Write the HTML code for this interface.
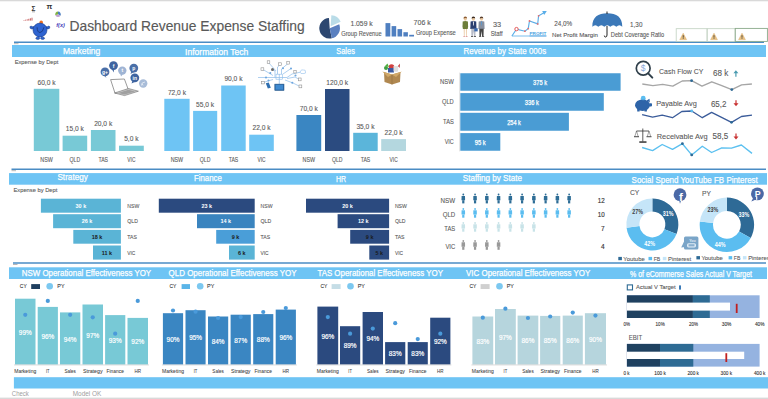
<!DOCTYPE html>
<html><head><meta charset="utf-8"><style>
html,body{margin:0;padding:0;background:#fff;width:768px;height:399px;overflow:hidden}
svg{display:block}
text{font-family:"Liberation Sans", sans-serif}
</style></head><body>
<svg width="768" height="399" viewBox="0 0 768 399">
<rect x="0.00" y="0.00" width="768.00" height="1.30" fill="#D9D9D9" />
<rect x="0.00" y="397.60" width="768.00" height="1.40" fill="#D9D9D9" />
<line x1="14.00" y1="42.30" x2="764.00" y2="42.30" stroke="#4A8CC4" stroke-width="1.5" />
<line x1="11.50" y1="169.20" x2="766.00" y2="169.20" stroke="#4A8CC4" stroke-width="1.5" />
<line x1="13.00" y1="263.00" x2="766.00" y2="263.00" stroke="#4A8CC4" stroke-width="1.5" />
<line x1="14.00" y1="43.70" x2="18.50" y2="43.70" stroke="#B0B0B0" stroke-width="0.9" />
<line x1="11.50" y1="170.70" x2="16.00" y2="170.70" stroke="#B0B0B0" stroke-width="0.9" />
<line x1="13.00" y1="264.50" x2="17.50" y2="264.50" stroke="#B0B0B0" stroke-width="0.9" />
<rect x="12.00" y="45.00" width="754.00" height="12.00" fill="#6EC4F4" />
<rect x="9.00" y="173.10" width="758.00" height="11.60" fill="#6EC4F4" />
<rect x="9.00" y="267.30" width="758.00" height="11.70" fill="#6EC4F4" />
<rect x="13.90" y="377.20" width="754.10" height="11.30" fill="#6EC4F4" />
<text x="69.50" y="31.00" font-size="14.5" fill="#595959" text-anchor="start" font-weight="normal" textLength="235.18" lengthAdjust="spacingAndGlyphs"  stroke="#595959" stroke-width="0.15">Dashboard Revenue Expense Staffing</text>
<circle cx="41.20" cy="22.40" r="1.80" fill="#F07020" />
<g stroke="#1d3f8a" stroke-width="0.6" fill="#2E63D0">
<path d="M34,28.5 Q31.5,29.5 30.2,28.2 Q29.5,26.5 30.8,26 Q31.5,25.6 32,26.8 Q33,27 34,26.5 Z"/>
<path d="M45.8,28.5 Q48.3,29.5 49.6,28.2 Q50.3,26.5 49,26 Q48.3,25.6 47.8,26.8 Q46.8,27 45.8,26.5 Z"/>
<ellipse cx="37.8" cy="38.3" rx="2" ry="1.1"/><ellipse cx="42.6" cy="38.3" rx="2" ry="1.1"/>
<rect x="37.6" y="35" width="1.6" height="3" stroke="none"/><rect x="40.8" y="35" width="1.6" height="3" stroke="none"/>
<ellipse cx="40" cy="30" rx="7" ry="6.9"/>
</g>
<path d="M37.1,27.3 Q37.3,32.5 40,32.5 Q42.8,32.5 43.9,27.3" fill="none" stroke="#1a3a80" stroke-width="0.9"/>
<text x="33.50" y="11.20" font-size="6.5" fill="#333" text-anchor="middle" font-weight="bold" >Σ</text>
<rect x="32.00" y="11.60" width="3.00" height="0.60" fill="#777" />
<text x="49.30" y="8.80" font-size="7.5" fill="#333" text-anchor="middle" font-weight="bold" >π</text>
<path d="M58.00,14.30 L58.00,11.50 A2.8,2.8 0 0 1 60.42,15.70 Z" fill="#4A7FC0" />
<path d="M58.00,14.30 L60.42,15.70 A2.8,2.8 0 0 1 55.37,15.26 Z" fill="#C0A0D0" />
<path d="M58.00,14.30 L55.37,15.26 A2.8,2.8 0 0 1 58.00,11.50 Z" fill="#80B040" />
<text x="60.50" y="27.20" font-size="5.5" fill="#4038B8" text-anchor="middle" font-weight="bold" font-style="italic">f(x)</text>
<rect x="23.50" y="20.00" width="1.00" height="0.60" fill="#C86060" />
<rect x="25.10" y="19.70" width="1.00" height="0.90" fill="#C86060" />
<rect x="26.70" y="19.30" width="1.00" height="1.30" fill="#C86060" />
<rect x="28.30" y="18.80" width="1.00" height="1.80" fill="#C86060" />
<rect x="29.90" y="18.30" width="1.00" height="2.30" fill="#C86060" />
<rect x="31.50" y="17.70" width="1.00" height="2.90" fill="#C86060" />
<path d="M329.70,28.20 L331.84,38.27 A10.3,10.3 0 1 1 328.98,17.93 Z" fill="#2D4770" />
<path d="M329.70,28.20 L339.25,24.34 A10.3,10.3 0 0 1 331.84,38.27 Z" fill="#5A80C0" />
<path d="M330.60,26.20 L331.37,15.23 A11,11 0 0 1 340.65,21.73 Z" fill="#B9DCE8" />
<text x="350.40" y="26.10" font-size="7" fill="#595959" text-anchor="start" font-weight="normal" textLength="22.37" lengthAdjust="spacingAndGlyphs"  stroke="#595959" stroke-width="0.1">1.059 k</text>
<text x="341.25" y="35.80" font-size="6.5" fill="#595959" text-anchor="start" font-weight="normal" textLength="40.35" lengthAdjust="spacingAndGlyphs"  stroke="#595959" stroke-width="0.1">Group Revenue</text>
<rect x="385.50" y="23.10" width="4.80" height="13.40" fill="#4F7FC0" />
<rect x="391.60" y="26.10" width="4.60" height="10.40" fill="#4F7FC0" />
<rect x="397.50" y="29.10" width="4.60" height="7.40" fill="#4F7FC0" />
<rect x="403.40" y="32.20" width="4.50" height="4.30" fill="#4F7FC0" />
<rect x="409.20" y="34.80" width="4.80" height="1.70" fill="#4F7FC0" />
<text x="413.60" y="25.40" font-size="7" fill="#595959" text-anchor="start" font-weight="normal" textLength="17.17" lengthAdjust="spacingAndGlyphs"  stroke="#595959" stroke-width="0.1">706 k</text>
<text x="415.90" y="35.20" font-size="6.5" fill="#595959" text-anchor="start" font-weight="normal" textLength="39.89" lengthAdjust="spacingAndGlyphs"  stroke="#595959" stroke-width="0.1">Group Expense</text>
<g transform="translate(465.30,16.60)">
<ellipse cx="0" cy="2.2" rx="1.6" ry="1.9" fill="#EAC8A0"/><path d="M-1.8,2 Q-1.9,-0.2 0,-0.2 Q1.9,-0.2 1.8,2 Q1,0.9 -1.8,2 Z" fill="#8a5a30"/>
<path d="M-2.6,4.8 Q0,4 2.6,4.8 L2.8,10 L2.4,12.5 L-2.4,12.5 L-2.8,10 Z" fill="#6E7E3A"/>
<path d="M-1.6,12.5 L-0.6,12.5 L-0.7,19.5 L-1.4,19.5 Z M0.6,12.5 L1.6,12.5 L1.4,19.5 L0.7,19.5 Z" fill="#EAC8A0"/>
<path d="M-1.9,19.3 L-0.4,19.3 L-0.4,20 L-1.9,20 Z M0.4,19.3 L2.2,19.3 L2.2,20 L0.4,20 Z" fill="#C04040"/>
</g>
<g transform="translate(473.40,16.60)">
<ellipse cx="0" cy="2.2" rx="1.6" ry="1.9" fill="#EAC8A0"/><path d="M-1.8,2 Q-1.9,-0.2 0,-0.2 Q1.9,-0.2 1.8,2 Q1,0.9 -1.8,2 Z" fill="#3a2a20"/>
<path d="M-2.8,5 Q0,4 2.8,5 L3.1,12.3 L-3.1,12.3 Z" fill="#2B3F70"/>
<path d="M-0.5,4.8 L0.5,4.8 L0.3,9 L-0.3,9 Z" fill="#fff"/>
<path d="M-2.2,12.2 L2.2,12.2 L2,19.6 L0.6,19.6 L0,14.5 L-0.6,19.6 L-2,19.6 Z" fill="#B8BCC8"/>
<path d="M-2.4,19.4 L-0.4,19.4 L-0.4,20.2 L-2.4,20.2 Z M0.4,19.4 L2.6,19.4 L2.6,20.2 L0.4,20.2 Z" fill="#333"/>
</g>
<rect x="474.3" y="28.2" width="3.4" height="3.2" fill="#3A6AB0"/>
<g transform="translate(481.50,16.60)">
<ellipse cx="0" cy="2.2" rx="1.6" ry="1.9" fill="#EAC8A0"/><path d="M-1.8,2 Q-1.9,-0.2 0,-0.2 Q1.9,-0.2 1.8,2 Q1,0.9 -1.8,2 Z" fill="#5a4030"/>
<path d="M-2.8,5 Q0,4 2.8,5 L3.1,12.3 L-3.1,12.3 Z" fill="#8890A0"/>
<path d="M-0.5,4.8 L0.5,4.8 L0.3,9 L-0.3,9 Z" fill="#5A9AD0"/>
<path d="M-2.2,12.2 L2.2,12.2 L2,19.6 L0.6,19.6 L0,14.5 L-0.6,19.6 L-2,19.6 Z" fill="#444"/>
<path d="M-2.4,19.4 L-0.4,19.4 L-0.4,20.2 L-2.4,20.2 Z M0.4,19.4 L2.6,19.4 L2.6,20.2 L0.4,20.2 Z" fill="#333"/>
</g>
<text x="493.00" y="26.70" font-size="7" fill="#595959" text-anchor="start" font-weight="normal" textLength="8.12" lengthAdjust="spacingAndGlyphs"  stroke="#595959" stroke-width="0.1">33</text>
<text x="490.70" y="35.80" font-size="6.5" fill="#595959" text-anchor="start" font-weight="normal" textLength="11.99" lengthAdjust="spacingAndGlyphs"  stroke="#595959" stroke-width="0.1">Staff</text>
<path d="M511.9,36 L516.5,29.1 L524.9,31.2 L528.2,28.6 L529.5,21 L537.7,23.9 L538.6,15.8 L544,12.8" fill="none" stroke="#5AAEE8" stroke-width="1.15"/>
<path d="M511.9,36 L546.4,36" stroke="#5AAEE8" stroke-width="0.8"/>
<path d="M542.2,11 L546.8,11 L544.2,15 Z" fill="#5AAEE8"/>
<circle cx="516.50" cy="29.10" r="1.70" fill="white"  stroke="#E04848" stroke-width="0.9"/>
<circle cx="524.90" cy="31.20" r="0.90" fill="#E87070" />
<circle cx="528.20" cy="28.60" r="0.90" fill="#E87070" />
<circle cx="529.50" cy="21.00" r="0.90" fill="#E87070" />
<circle cx="537.70" cy="23.90" r="0.90" fill="#E87070" />
<circle cx="538.60" cy="15.80" r="0.90" fill="#E87070" />
<text x="529.50" y="35.20" font-size="4.4" fill="#4A9EE0" text-anchor="start" font-weight="bold" textLength="16.91" lengthAdjust="spacingAndGlyphs" >PROFIT</text>
<rect x="529.50" y="35.60" width="16.90" height="0.70" fill="#4A9EE0" />
<text x="554.20" y="26.20" font-size="7" fill="#595959" text-anchor="start" font-weight="normal" textLength="17.90" lengthAdjust="spacingAndGlyphs"  stroke="#595959" stroke-width="0.1">24,0%</text>
<text x="552.00" y="37.10" font-size="6.1" fill="#595959" text-anchor="start" font-weight="normal" textLength="45.89" lengthAdjust="spacingAndGlyphs"  stroke="#595959" stroke-width="0.1">Net Profit Margin</text>
<path d="M592.3,26.8 C592.3,17 598,13.3 607.3,13.3 C616.6,13.3 622.3,17 622.3,26.8 Q619.3,23.8 616.3,26.8 Q613.3,23.8 610.3,26.8 Q607.3,23.8 604.3,26.8 Q601.3,23.8 598.3,26.8 Q595.3,23.8 592.3,26.8 Z" fill="#3B78B8"/>
<path d="M607,11.5 L607,14 M607,26 L607,35 Q607,37 605.6,37 Q604.3,37 604.3,35.6" fill="none" stroke="#222" stroke-width="1"/>
<text x="630.10" y="27.30" font-size="7" fill="#595959" text-anchor="start" font-weight="normal" textLength="12.31" lengthAdjust="spacingAndGlyphs"  stroke="#595959" stroke-width="0.1">1,30</text>
<text x="610.80" y="36.70" font-size="6.3" fill="#595959" text-anchor="start" font-weight="normal" textLength="53.29" lengthAdjust="spacingAndGlyphs"  stroke="#595959" stroke-width="0.1">Debt Coverage Ratio</text>
<g fill="none" stroke="#C0D0C0" stroke-width="0.8">
<rect x="676.2" y="28.7" width="30.9" height="12.7"/><rect x="707.1" y="28.7" width="28.1" height="12.7"/>
</g>
<rect x="735.2" y="28.4" width="32.2" height="13" fill="none" stroke="#8AAA8A" stroke-width="0.9"/>
<path d="M679.7,39.7 L683.2,33.1 L686.7,39.7 Z" fill="#E8C080" stroke="#D0A060" stroke-width="0.3"/>
<rect x="682.8000000000001" y="35.2" width="0.8" height="2.5" fill="#333"/><rect x="682.8000000000001" y="38.3" width="0.8" height="0.7" fill="#333"/>
<path d="M710.5,39.7 L714,33.1 L717.5,39.7 Z" fill="#E8C080" stroke="#D0A060" stroke-width="0.3"/>
<rect x="713.6" y="35.2" width="0.8" height="2.5" fill="#333"/><rect x="713.6" y="38.3" width="0.8" height="0.7" fill="#333"/>
<path d="M738.5,39.7 L742,33.1 L745.5,39.7 Z" fill="#E8C080" stroke="#D0A060" stroke-width="0.3"/>
<rect x="741.6" y="35.2" width="0.8" height="2.5" fill="#333"/><rect x="741.6" y="38.3" width="0.8" height="0.7" fill="#333"/>
<text x="62.90" y="53.70" font-size="8.8" fill="white" text-anchor="start" font-weight="normal" textLength="37.41" lengthAdjust="spacingAndGlyphs"  stroke="white" stroke-width="0.25">Marketing</text>
<text x="185.00" y="54.80" font-size="8.8" fill="white" text-anchor="start" font-weight="normal" textLength="63.30" lengthAdjust="spacingAndGlyphs"  stroke="white" stroke-width="0.25">Information Tech</text>
<text x="336.25" y="53.60" font-size="8.8" fill="white" text-anchor="start" font-weight="normal" textLength="18.66" lengthAdjust="spacingAndGlyphs"  stroke="white" stroke-width="0.25">Sales</text>
<text x="463.50" y="53.80" font-size="8.8" fill="white" text-anchor="start" font-weight="normal" textLength="82.61" lengthAdjust="spacingAndGlyphs"  stroke="white" stroke-width="0.25">Revenue by State 000s</text>
<text x="14.70" y="64.30" font-size="6" fill="#595959" text-anchor="start" font-weight="normal" textLength="43.60" lengthAdjust="spacingAndGlyphs"  stroke="#595959" stroke-width="0.1">Expense by Dept</text>
<rect x="33.80" y="88.80" width="25.50" height="62.20" fill="#78C9D6" />
<text x="37.49" y="84.50" font-size="7" fill="#595959" text-anchor="start" font-weight="normal" textLength="18.08" lengthAdjust="spacingAndGlyphs"  stroke="#595959" stroke-width="0.1">60,0 k</text>
<text x="40.30" y="161.70" font-size="6.5" fill="#595959" text-anchor="start" font-weight="normal" textLength="12.49" lengthAdjust="spacingAndGlyphs"  stroke="#595959" stroke-width="0.1">NSW</text>
<rect x="62.60" y="135.70" width="24.60" height="15.30" fill="#78C9D6" />
<text x="65.84" y="131.40" font-size="7" fill="#595959" text-anchor="start" font-weight="normal" textLength="18.08" lengthAdjust="spacingAndGlyphs"  stroke="#595959" stroke-width="0.1">15,0 k</text>
<text x="69.60" y="161.70" font-size="6.5" fill="#595959" text-anchor="start" font-weight="normal" textLength="10.61" lengthAdjust="spacingAndGlyphs"  stroke="#595959" stroke-width="0.1">QLD</text>
<rect x="90.90" y="130.00" width="24.60" height="21.00" fill="#78C9D6" />
<text x="94.14" y="125.70" font-size="7" fill="#595959" text-anchor="start" font-weight="normal" textLength="18.08" lengthAdjust="spacingAndGlyphs"  stroke="#595959" stroke-width="0.1">20,0 k</text>
<text x="98.40" y="161.70" font-size="6.5" fill="#595959" text-anchor="start" font-weight="normal" textLength="9.60" lengthAdjust="spacingAndGlyphs"  stroke="#595959" stroke-width="0.1">TAS</text>
<rect x="119.00" y="145.70" width="24.80" height="5.30" fill="#78C9D6" />
<text x="124.19" y="141.40" font-size="7" fill="#595959" text-anchor="start" font-weight="normal" textLength="14.37" lengthAdjust="spacingAndGlyphs"  stroke="#595959" stroke-width="0.1">5,0 k</text>
<text x="127.35" y="161.70" font-size="6.5" fill="#595959" text-anchor="start" font-weight="normal" textLength="8.11" lengthAdjust="spacingAndGlyphs"  stroke="#595959" stroke-width="0.1">VIC</text>
<rect x="164.30" y="98.80" width="25.30" height="52.20" fill="#6EC4F4" />
<text x="167.89" y="94.50" font-size="7" fill="#595959" text-anchor="start" font-weight="normal" textLength="18.08" lengthAdjust="spacingAndGlyphs"  stroke="#595959" stroke-width="0.1">72,0 k</text>
<text x="170.70" y="161.70" font-size="6.5" fill="#595959" text-anchor="start" font-weight="normal" textLength="12.49" lengthAdjust="spacingAndGlyphs"  stroke="#595959" stroke-width="0.1">NSW</text>
<rect x="193.10" y="110.90" width="24.10" height="40.10" fill="#6EC4F4" />
<text x="196.09" y="106.60" font-size="7" fill="#595959" text-anchor="start" font-weight="normal" textLength="18.08" lengthAdjust="spacingAndGlyphs"  stroke="#595959" stroke-width="0.1">55,0 k</text>
<text x="199.85" y="161.70" font-size="6.5" fill="#595959" text-anchor="start" font-weight="normal" textLength="10.61" lengthAdjust="spacingAndGlyphs"  stroke="#595959" stroke-width="0.1">QLD</text>
<rect x="221.20" y="85.50" width="24.50" height="65.50" fill="#6EC4F4" />
<text x="224.39" y="81.20" font-size="7" fill="#595959" text-anchor="start" font-weight="normal" textLength="18.08" lengthAdjust="spacingAndGlyphs"  stroke="#595959" stroke-width="0.1">90,0 k</text>
<text x="228.65" y="161.70" font-size="6.5" fill="#595959" text-anchor="start" font-weight="normal" textLength="9.60" lengthAdjust="spacingAndGlyphs"  stroke="#595959" stroke-width="0.1">TAS</text>
<rect x="249.20" y="134.70" width="24.60" height="16.30" fill="#6EC4F4" />
<text x="252.44" y="130.40" font-size="7" fill="#595959" text-anchor="start" font-weight="normal" textLength="18.08" lengthAdjust="spacingAndGlyphs"  stroke="#595959" stroke-width="0.1">22,0 k</text>
<text x="257.45" y="161.70" font-size="6.5" fill="#595959" text-anchor="start" font-weight="normal" textLength="8.11" lengthAdjust="spacingAndGlyphs"  stroke="#595959" stroke-width="0.1">VIC</text>
<rect x="296.40" y="115.00" width="24.80" height="36.00" fill="#3A86C2" />
<text x="299.74" y="110.70" font-size="7" fill="#595959" text-anchor="start" font-weight="normal" textLength="18.08" lengthAdjust="spacingAndGlyphs"  stroke="#595959" stroke-width="0.1">70,0 k</text>
<text x="302.55" y="161.70" font-size="6.5" fill="#595959" text-anchor="start" font-weight="normal" textLength="12.49" lengthAdjust="spacingAndGlyphs"  stroke="#595959" stroke-width="0.1">NSW</text>
<rect x="325.00" y="89.00" width="24.50" height="62.00" fill="#2B4B80" />
<text x="326.34" y="84.70" font-size="7" fill="#595959" text-anchor="start" font-weight="normal" textLength="21.78" lengthAdjust="spacingAndGlyphs"  stroke="#595959" stroke-width="0.1">120,0 k</text>
<text x="331.95" y="161.70" font-size="6.5" fill="#595959" text-anchor="start" font-weight="normal" textLength="10.61" lengthAdjust="spacingAndGlyphs"  stroke="#595959" stroke-width="0.1">QLD</text>
<rect x="353.20" y="132.80" width="24.50" height="18.20" fill="#5BB5DA" />
<text x="356.39" y="128.50" font-size="7" fill="#595959" text-anchor="start" font-weight="normal" textLength="18.08" lengthAdjust="spacingAndGlyphs"  stroke="#595959" stroke-width="0.1">35,0 k</text>
<text x="360.65" y="161.70" font-size="6.5" fill="#595959" text-anchor="start" font-weight="normal" textLength="9.60" lengthAdjust="spacingAndGlyphs"  stroke="#595959" stroke-width="0.1">TAS</text>
<rect x="381.20" y="139.10" width="24.80" height="11.90" fill="#B4D7DF" />
<text x="384.54" y="134.80" font-size="7" fill="#595959" text-anchor="start" font-weight="normal" textLength="18.08" lengthAdjust="spacingAndGlyphs"  stroke="#595959" stroke-width="0.1">22,0 k</text>
<text x="389.55" y="161.70" font-size="6.5" fill="#595959" text-anchor="start" font-weight="normal" textLength="8.11" lengthAdjust="spacingAndGlyphs"  stroke="#595959" stroke-width="0.1">VIC</text>
<circle cx="105.00" cy="71.90" r="4.40" fill="#4A6FA8" />
<path d="M102.80,74.54 L106.50,78.00 L105.44,75.86 Z" fill="#4A6FA8"/>
<circle cx="113.50" cy="65.60" r="4.40" fill="#3E64A0" />
<path d="M111.30,68.24 L113.80,72.50 L113.94,69.56 Z" fill="#3E64A0"/>
<circle cx="122.30" cy="70.60" r="4.20" fill="#9FB4D4" />
<path d="M120.20,73.12 L121.00,76.50 L122.72,74.38 Z" fill="#9FB4D4"/>
<circle cx="133.80" cy="68.10" r="4.40" fill="#4A6FA8" />
<path d="M131.60,70.74 L130.50,74.00 L134.24,72.06 Z" fill="#4A6FA8"/>
<circle cx="134.80" cy="77.80" r="4.40" fill="#3E64A0" />
<path d="M132.60,80.44 L131.50,83.50 L135.24,81.76 Z" fill="#3E64A0"/>
<circle cx="143.20" cy="83.50" r="4.20" fill="#A8BCD8" />
<path d="M141.10,86.02 L139.50,85.50 L143.62,87.28 Z" fill="#A8BCD8"/>
<text x="113.50" y="67.80" font-size="5" fill="white" text-anchor="middle" font-weight="bold" >f</text>
<text x="134.80" y="79.50" font-size="5" fill="white" text-anchor="middle" font-weight="bold" >in</text>
<text x="133.80" y="70.00" font-size="5" fill="white" text-anchor="middle" font-weight="bold" >p</text>
<text x="105.00" y="73.60" font-size="5" fill="white" text-anchor="middle" font-weight="bold" >g+</text>
<path d="M110.6,79.6 L124.4,79 L129,91.5 L115,93.2 Z" fill="white" stroke="#707070" stroke-width="0.7"/>
<path d="M114.5,93 L128.5,88.5 L138.4,91.2 L124.5,95.6 Z" fill="#C8C8C8" stroke="#707070" stroke-width="0.6"/>
<path d="M118,93 L128.5,89.8 L135,91.5 L124.5,94.5 Z" fill="#A0A0A0"/>
<text x="122.40" y="72.40" font-size="5" fill="white" text-anchor="middle" font-weight="bold" >t</text>
<path d="M141.5,85.5 Q141.5,82 145,82 M141.5,84 Q143,84 143,85.5" fill="none" stroke="white" stroke-width="0.6"/>
<g stroke="#8CBCEA" stroke-width="0.7" fill="none">
<path d="M279.3,84 L279.3,74"/>
<path d="M271,77.5 L287,77.5"/>
<path d="M275,77.5 L275,71 L272.5,69.5"/>
<path d="M277.5,74 L277.5,67 L280,65"/>
<path d="M281.5,74 L281.5,69 L288,63.5"/>
<path d="M287,77.5 L292,74 L301,72"/>
<path d="M287,78.5 L295,77 L299.5,79.5"/>
<path d="M285,80 L293,83 L300,86.5"/>
<path d="M271,77.5 L258,77.5"/>
<path d="M273,79.5 L263,82.5"/>
<path d="M273,75.5 L263,69.5"/>
<path d="M276,71 L268.5,62.5"/>
<path d="M283,74 L291,68.5"/>
</g>
<rect x="261" y="67.8" width="2.8" height="2.8" fill="white" stroke="#8A8A8A" stroke-width="0.55"/>
<rect x="267.2" y="60.8" width="2.6" height="2.6" fill="white" stroke="#8A8A8A" stroke-width="0.55"/>
<rect x="278.7" y="62.8" width="3" height="2.8" fill="white" stroke="#8A8A8A" stroke-width="0.55"/>
<rect x="286.8" y="61.3" width="2.8" height="2.8" fill="white" stroke="#8A8A8A" stroke-width="0.55"/>
<rect x="298.3" y="78" width="2.8" height="2.8" fill="white" stroke="#8A8A8A" stroke-width="0.55"/>
<rect x="299" y="85" width="2.8" height="2.8" fill="white" stroke="#8A8A8A" stroke-width="0.55"/>
<rect x="261.5" y="81.3" width="2.8" height="2.6" fill="white" stroke="#8A8A8A" stroke-width="0.55"/>
<rect x="293.8" y="70.6" width="2.4" height="2.4" fill="white" stroke="#8A8A8A" stroke-width="0.55"/>
<circle cx="272.50" cy="69.50" r="1.50" fill="#6A6A6A" />
<circle cx="266.00" cy="77.50" r="1.05" fill="#6FA8E0" />
<circle cx="291.00" cy="68.50" r="1.05" fill="#6FA8E0" />
<circle cx="295.50" cy="75.50" r="1.05" fill="#6FA8E0" />
<circle cx="270.30" cy="73.00" r="1.05" fill="#6FA8E0" />
<circle cx="283.00" cy="68.30" r="1.05" fill="#6FA8E0" />
<circle cx="292.30" cy="82.70" r="1.05" fill="#6FA8E0" />
<circle cx="268.50" cy="80.50" r="1.05" fill="#6FA8E0" />
<rect x="276" y="74.2" width="6.5" height="5" fill="none" stroke="#8CBCEA" stroke-width="0.6"/>
<rect x="274.80" y="84.10" width="9.20" height="6.40" fill="#2F6FB0"  stroke="#1F4F80" stroke-width="0.5"/>
<rect x="275.80" y="85.00" width="7.20" height="4.50" fill="#3F8AD0" />
<path d="M265.8,83.3 L268.8,82.5 L270.8,87.7 L267.8,88.6 Z" fill="#2F6FB0"/>
<path d="M300.5,71.5 Q301,69 303.5,70 Q305.8,69.5 305.5,72 Q306,73.5 304,73.5 L301,73.5 Q299.8,73 300.5,71.5 Z" fill="white" stroke="#8CBCEA" stroke-width="0.55"/>
<path d="M384,72 L392,74.5 L400.5,72 L400,82 L392,84.5 L384.5,82 Z" fill="#B08850"/>
<path d="M392,74.5 L392,84.5" stroke="#8A6A3A" stroke-width="0.5"/>
<path d="M382.3,71.5 L384,72 L392,74.5 L388,77 Z M400.5,72 L401.8,71.5 L396,77 L392,74.5 Z" fill="#D0A868"/>
<circle cx="391.50" cy="67.00" r="2.80" fill="#D04040" />
<circle cx="386.00" cy="68.00" r="2.00" fill="#40A040" />
<circle cx="396.00" cy="69.00" r="2.20" fill="#4070C0" />
<rect x="388.00" y="68.00" width="6.00" height="4.50" fill="#3A5AA0" />
<rect x="393.50" y="66.00" width="4.50" height="5.50" fill="#E0E0E0" />
<path d="M385,66 L387.5,63.5 L389,67 Z" fill="#50B040"/><path d="M398,66 L400,63.5 L399.5,68 Z" fill="#C03030"/>
<line x1="459.60" y1="72.60" x2="459.60" y2="151.40" stroke="#D9D9D9" stroke-width="0.7" />
<rect x="460.30" y="73.25" width="160.30" height="17.50" fill="#4A9CD4" />
<text x="533.10" y="85.30" font-size="6.8" fill="white" text-anchor="start" font-weight="normal" textLength="14.08" lengthAdjust="spacingAndGlyphs"  stroke="white" stroke-width="0.25">375 k</text>
<text x="440.00" y="84.20" font-size="7" fill="#595959" text-anchor="start" font-weight="normal" textLength="13.74" lengthAdjust="spacingAndGlyphs"  stroke="#595959" stroke-width="0.1">NSW</text>
<rect x="460.30" y="93.10" width="143.50" height="17.65" fill="#4A9CD4" />
<text x="524.80" y="104.80" font-size="6.8" fill="white" text-anchor="start" font-weight="normal" textLength="14.08" lengthAdjust="spacingAndGlyphs"  stroke="white" stroke-width="0.25">336 k</text>
<text x="442.00" y="104.00" font-size="7" fill="#595959" text-anchor="start" font-weight="normal" textLength="11.76" lengthAdjust="spacingAndGlyphs"  stroke="#595959" stroke-width="0.1">QLD</text>
<rect x="460.30" y="112.80" width="108.60" height="17.95" fill="#4A9CD4" />
<text x="507.20" y="124.50" font-size="6.8" fill="white" text-anchor="start" font-weight="normal" textLength="13.68" lengthAdjust="spacingAndGlyphs"  stroke="white" stroke-width="0.25">254 k</text>
<text x="443.10" y="124.20" font-size="7" fill="#595959" text-anchor="start" font-weight="normal" textLength="10.65" lengthAdjust="spacingAndGlyphs"  stroke="#595959" stroke-width="0.1">TAS</text>
<rect x="460.30" y="133.10" width="40.00" height="17.65" fill="#4A9CD4" />
<text x="474.80" y="144.50" font-size="6.8" fill="white" text-anchor="start" font-weight="normal" textLength="10.97" lengthAdjust="spacingAndGlyphs"  stroke="white" stroke-width="0.25">95 k</text>
<text x="444.70" y="143.60" font-size="7" fill="#595959" text-anchor="start" font-weight="normal" textLength="9.06" lengthAdjust="spacingAndGlyphs"  stroke="#595959" stroke-width="0.1">VIC</text>
<circle cx="643.20" cy="68.30" r="6.90" fill="none"  stroke="#2F3F4A" stroke-width="1.7"/>
<path d="M648.2,73.4 L652.3,77.6" stroke="#2F3F4A" stroke-width="2" stroke-linecap="round"/>
<text x="643.20" y="71.30" font-size="8.5" fill="#8AA8D8" text-anchor="middle" font-weight="normal" >$</text>
<text x="659.10" y="74.30" font-size="8" fill="#595959" text-anchor="start" font-weight="normal" textLength="44.21" lengthAdjust="spacingAndGlyphs"  stroke="#595959" stroke-width="0.1">Cash Flow CY</text>
<text x="713.00" y="76.10" font-size="8.9" fill="#595959" text-anchor="start" font-weight="normal" textLength="15.26" lengthAdjust="spacingAndGlyphs"  stroke="#595959" stroke-width="0.1">68 k</text>
<path d="M735.9,76.65 L735.9,72" stroke="#4A9BB0" stroke-width="1.2"/><path d="M733.4,73.3 L735.9,70.2 L738.4,73.3 Z" fill="#4A9BB0"/>
<path d="M642.3,84.0 L652.9,85.6 L662.7,84.3 L672.8,86.1 L682.2,81.0 L691.6,80.7 L702.0,86.1 L711.8,81.8 L721.8,85.7 L731.8,89.6 L741.6,84.8 L751.9,84.0" fill="none" stroke="#A6A6A6" stroke-width="1.35" stroke-linejoin="round"/>
<circle cx="691.60" cy="80.70" r="1.40" fill="#2E6A96" />
<circle cx="731.80" cy="89.60" r="1.40" fill="#2E6A96" />
<ellipse cx="642.5" cy="105.2" rx="7.5" ry="5.8" fill="#2E64A8"/>
<path d="M646.5,100.5 L649.5,98.8 L649.8,102.5 Z" fill="#2E64A8"/><rect x="649.2" y="103.2" width="2.8" height="3.2" rx="0.8" fill="#2E64A8"/>
<rect x="637.2" y="108.5" width="2.4" height="3" fill="#2E64A8"/><rect x="644.5" y="108.5" width="2.4" height="3" fill="#2E64A8"/>
<circle cx="643.20" cy="98.20" r="2.40" fill="#5BBDF0" />
<rect x="640.50" y="99.80" width="5.50" height="0.80" fill="#2E64A8" />
<text x="656.20" y="105.50" font-size="8" fill="#595959" text-anchor="start" font-weight="normal" textLength="40.61" lengthAdjust="spacingAndGlyphs"  stroke="#595959" stroke-width="0.1">Payable Avg</text>
<text x="710.90" y="107.40" font-size="8.9" fill="#595959" text-anchor="start" font-weight="normal" textLength="15.61" lengthAdjust="spacingAndGlyphs"  stroke="#595959" stroke-width="0.1">65,2</text>
<path d="M736,100.2 L736,104.5" stroke="#C83030" stroke-width="1.2"/><path d="M733.5,103.2 L736,106.2 L738.5,103.2 Z" fill="#C83030"/>
<path d="M642.1,114.7 L652.6,117.1 L662.2,115.2 L672.5,117.7 L681.8,111.5 L691.7,111.0 L702.3,117.7 L711.6,112.4 L721.6,117.4 L731.5,122.3 L741.4,116.5 L752.0,115.2" fill="none" stroke="#3B5C9A" stroke-width="1.35" stroke-linejoin="round"/>
<circle cx="691.70" cy="111.00" r="1.40" fill="#5BBDF0" />
<circle cx="731.50" cy="122.30" r="1.40" fill="#2E6A96" />
<g stroke="#333" fill="none" stroke-width="0.8">
<path d="M642.8,128.5 L642.8,141.5 M636.5,131 L649,131"/>
<path d="M636.5,131 L634.8,136.5 M636.5,131 L638.2,136.5 M649,131 L647.3,136.5 M649,131 L650.7,136.5" stroke-width="0.45"/>
</g>
<rect x="634.00" y="136.30" width="5.00" height="0.90" fill="#333" />
<rect x="646.50" y="136.30" width="5.00" height="0.90" fill="#333" />
<rect x="639.30" y="141.30" width="7.20" height="1.50" fill="#333" />
<text x="656.80" y="138.90" font-size="8" fill="#595959" text-anchor="start" font-weight="normal" textLength="50.70" lengthAdjust="spacingAndGlyphs"  stroke="#595959" stroke-width="0.1">Receivable Avg</text>
<text x="712.50" y="139.40" font-size="8.9" fill="#595959" text-anchor="start" font-weight="normal" textLength="15.71" lengthAdjust="spacingAndGlyphs"  stroke="#595959" stroke-width="0.1">58,5</text>
<path d="M736,133.6 L736,137.8" stroke="#C83030" stroke-width="1.2"/><path d="M733.5,136.5 L736,139.5 L738.5,136.5 Z" fill="#C83030"/>
<path d="M642.1,147.5 L652.6,150.6 L662.2,144.5 L672.5,149.3 L682.4,143.7 L691.7,154.9 L702.3,146.3 L711.6,152.5 L721.8,147.8 L731.5,148.2 L741.4,145.0 L752.0,153.4" fill="none" stroke="#5BC0F0" stroke-width="1.35" stroke-linejoin="round"/>
<circle cx="682.40" cy="143.70" r="1.40" fill="#2E6A96" />
<circle cx="691.70" cy="154.90" r="1.40" fill="#2E6A96" />
<text x="57.40" y="180.20" font-size="8.8" fill="white" text-anchor="start" font-weight="normal" textLength="30.49" lengthAdjust="spacingAndGlyphs"  stroke="white" stroke-width="0.25">Strategy</text>
<text x="193.90" y="180.75" font-size="8.8" fill="white" text-anchor="start" font-weight="normal" textLength="27.88" lengthAdjust="spacingAndGlyphs"  stroke="white" stroke-width="0.25">Finance</text>
<text x="335.90" y="181.90" font-size="8.8" fill="white" text-anchor="start" font-weight="normal" textLength="10.10" lengthAdjust="spacingAndGlyphs"  stroke="white" stroke-width="0.25">HR</text>
<text x="462.80" y="181.40" font-size="8.8" fill="white" text-anchor="start" font-weight="normal" textLength="59.10" lengthAdjust="spacingAndGlyphs"  stroke="white" stroke-width="0.25">Staffing by State</text>
<text x="631.60" y="182.60" font-size="8.8" fill="white" text-anchor="start" font-weight="normal" textLength="126.18" lengthAdjust="spacingAndGlyphs"  stroke="white" stroke-width="0.25">Social Spend YouTube FB Pinterest</text>
<text x="13.50" y="191.80" font-size="6" fill="#595959" text-anchor="start" font-weight="normal" textLength="43.80" lengthAdjust="spacingAndGlyphs"  stroke="#595959" stroke-width="0.1">Expense by Dept</text>
<rect x="40.90" y="198.70" width="80.00" height="14.00" fill="#5AB4D6" />
<text x="75.59" y="207.85" font-size="6" fill="white" text-anchor="start" font-weight="bold" textLength="10.61" lengthAdjust="spacingAndGlyphs" >30 k</text>
<text x="127.25" y="207.85" font-size="6" fill="#595959" text-anchor="start" font-weight="normal" textLength="11.99" lengthAdjust="spacingAndGlyphs"  stroke="#595959" stroke-width="0.1">NSW</text>
<rect x="53.10" y="214.20" width="67.80" height="14.00" fill="#5AB4D6" />
<text x="81.69" y="223.35" font-size="6" fill="white" text-anchor="start" font-weight="bold" textLength="10.61" lengthAdjust="spacingAndGlyphs" >26 k</text>
<text x="127.25" y="223.35" font-size="6" fill="#595959" text-anchor="start" font-weight="normal" textLength="10.61" lengthAdjust="spacingAndGlyphs"  stroke="#595959" stroke-width="0.1">QLD</text>
<rect x="73.30" y="229.90" width="47.60" height="13.80" fill="#5AB4D6" />
<text x="91.79" y="238.95" font-size="6" fill="#1a1a1a" text-anchor="start" font-weight="bold" textLength="10.61" lengthAdjust="spacingAndGlyphs" >18 k</text>
<text x="127.25" y="238.95" font-size="6" fill="#595959" text-anchor="start" font-weight="normal" textLength="9.60" lengthAdjust="spacingAndGlyphs"  stroke="#595959" stroke-width="0.1">TAS</text>
<rect x="93.00" y="245.50" width="27.90" height="14.10" fill="#5AB4D6" />
<text x="101.79" y="254.70" font-size="6" fill="#1a1a1a" text-anchor="start" font-weight="bold" textLength="10.30" lengthAdjust="spacingAndGlyphs" >11 k</text>
<text x="127.25" y="254.70" font-size="6" fill="#595959" text-anchor="start" font-weight="normal" textLength="8.11" lengthAdjust="spacingAndGlyphs"  stroke="#595959" stroke-width="0.1">VIC</text>
<rect x="158.80" y="198.70" width="95.90" height="14.00" fill="#2B4A7F" />
<text x="201.44" y="207.85" font-size="6" fill="white" text-anchor="start" font-weight="bold" textLength="10.61" lengthAdjust="spacingAndGlyphs" >23 k</text>
<text x="260.50" y="207.85" font-size="6" fill="#595959" text-anchor="start" font-weight="normal" textLength="11.99" lengthAdjust="spacingAndGlyphs"  stroke="#595959" stroke-width="0.1">NSW</text>
<rect x="197.00" y="214.20" width="57.70" height="14.00" fill="#3A84BF" />
<text x="220.54" y="223.35" font-size="6" fill="white" text-anchor="start" font-weight="bold" textLength="10.61" lengthAdjust="spacingAndGlyphs" >14 k</text>
<text x="260.50" y="223.35" font-size="6" fill="#595959" text-anchor="start" font-weight="normal" textLength="10.61" lengthAdjust="spacingAndGlyphs"  stroke="#595959" stroke-width="0.1">QLD</text>
<rect x="216.20" y="229.90" width="38.50" height="13.80" fill="#4A9ED8" />
<text x="231.65" y="238.95" font-size="6" fill="#1a1a1a" text-anchor="start" font-weight="bold" textLength="7.56" lengthAdjust="spacingAndGlyphs" >9 k</text>
<text x="260.50" y="238.95" font-size="6" fill="#595959" text-anchor="start" font-weight="normal" textLength="9.60" lengthAdjust="spacingAndGlyphs"  stroke="#595959" stroke-width="0.1">TAS</text>
<rect x="229.00" y="245.50" width="25.70" height="14.10" fill="#5AB4D6" />
<text x="238.05" y="254.70" font-size="6" fill="#1a1a1a" text-anchor="start" font-weight="bold" textLength="7.56" lengthAdjust="spacingAndGlyphs" >6 k</text>
<text x="260.50" y="254.70" font-size="6" fill="#595959" text-anchor="start" font-weight="normal" textLength="8.11" lengthAdjust="spacingAndGlyphs"  stroke="#595959" stroke-width="0.1">VIC</text>
<rect x="306.00" y="198.70" width="83.10" height="14.00" fill="#2B4A7F" />
<text x="342.24" y="207.85" font-size="6" fill="white" text-anchor="start" font-weight="bold" textLength="10.61" lengthAdjust="spacingAndGlyphs" >20 k</text>
<text x="394.90" y="207.85" font-size="6" fill="#595959" text-anchor="start" font-weight="normal" textLength="11.99" lengthAdjust="spacingAndGlyphs"  stroke="#595959" stroke-width="0.1">NSW</text>
<rect x="337.60" y="214.20" width="51.50" height="14.00" fill="#2B4A7F" />
<text x="358.04" y="223.35" font-size="6" fill="white" text-anchor="start" font-weight="bold" textLength="10.61" lengthAdjust="spacingAndGlyphs" >12 k</text>
<text x="394.90" y="223.35" font-size="6" fill="#595959" text-anchor="start" font-weight="normal" textLength="10.61" lengthAdjust="spacingAndGlyphs"  stroke="#595959" stroke-width="0.1">QLD</text>
<rect x="350.20" y="229.90" width="38.90" height="13.80" fill="#2B4A7F" />
<text x="365.85" y="238.95" font-size="6" fill="#1a1a1a" text-anchor="start" font-weight="bold" textLength="7.56" lengthAdjust="spacingAndGlyphs" >9 k</text>
<text x="394.90" y="238.95" font-size="6" fill="#595959" text-anchor="start" font-weight="normal" textLength="9.60" lengthAdjust="spacingAndGlyphs"  stroke="#595959" stroke-width="0.1">TAS</text>
<rect x="369.30" y="245.50" width="19.80" height="14.10" fill="#2B4A7F" />
<text x="375.40" y="254.70" font-size="6" fill="#1a1a1a" text-anchor="start" font-weight="bold" textLength="7.56" lengthAdjust="spacingAndGlyphs" >5 k</text>
<text x="394.90" y="254.70" font-size="6" fill="#595959" text-anchor="start" font-weight="normal" textLength="8.11" lengthAdjust="spacingAndGlyphs"  stroke="#595959" stroke-width="0.1">VIC</text>
<g fill="#2E6D96"><ellipse cx="463.30" cy="194.60" rx="0.9" ry="1"/><path d="M461.60,195.90 L465.00,195.90 L465.10,200.30 L461.50,200.30 Z"/><rect x="462.20" y="200.20" width="2.2" height="3.2"/></g>
<g fill="#2E6D96"><ellipse cx="475.06" cy="194.60" rx="0.9" ry="1"/><path d="M473.36,195.90 L476.76,195.90 L476.86,200.30 L473.26,200.30 Z"/><rect x="473.96" y="200.20" width="2.2" height="3.2"/></g>
<g fill="#2E6D96"><ellipse cx="486.82" cy="194.60" rx="0.9" ry="1"/><path d="M485.12,195.90 L488.52,195.90 L488.62,200.30 L485.02,200.30 Z"/><rect x="485.72" y="200.20" width="2.2" height="3.2"/></g>
<g fill="#2E6D96"><ellipse cx="498.58" cy="194.60" rx="0.9" ry="1"/><path d="M496.88,195.90 L500.28,195.90 L500.38,200.30 L496.78,200.30 Z"/><rect x="497.48" y="200.20" width="2.2" height="3.2"/></g>
<g fill="#2E6D96"><ellipse cx="510.34" cy="194.60" rx="0.9" ry="1"/><path d="M508.64,195.90 L512.04,195.90 L512.14,200.30 L508.54,200.30 Z"/><rect x="509.24" y="200.20" width="2.2" height="3.2"/></g>
<g fill="#2E6D96"><ellipse cx="522.10" cy="194.60" rx="0.9" ry="1"/><path d="M520.40,195.90 L523.80,195.90 L523.90,200.30 L520.30,200.30 Z"/><rect x="521.00" y="200.20" width="2.2" height="3.2"/></g>
<g fill="#2E6D96"><ellipse cx="533.86" cy="194.60" rx="0.9" ry="1"/><path d="M532.16,195.90 L535.56,195.90 L535.66,200.30 L532.06,200.30 Z"/><rect x="532.76" y="200.20" width="2.2" height="3.2"/></g>
<g fill="#2E6D96"><ellipse cx="545.62" cy="194.60" rx="0.9" ry="1"/><path d="M543.92,195.90 L547.32,195.90 L547.42,200.30 L543.82,200.30 Z"/><rect x="544.52" y="200.20" width="2.2" height="3.2"/></g>
<g fill="#2E6D96"><ellipse cx="557.38" cy="194.60" rx="0.9" ry="1"/><path d="M555.68,195.90 L559.08,195.90 L559.18,200.30 L555.58,200.30 Z"/><rect x="556.28" y="200.20" width="2.2" height="3.2"/></g>
<g fill="#2E6D96"><ellipse cx="569.14" cy="194.60" rx="0.9" ry="1"/><path d="M567.44,195.90 L570.84,195.90 L570.94,200.30 L567.34,200.30 Z"/><rect x="568.04" y="200.20" width="2.2" height="3.2"/></g>
<text x="440.60" y="203.00" font-size="7" fill="#595959" text-anchor="start" font-weight="normal" textLength="14.59" lengthAdjust="spacingAndGlyphs"  stroke="#595959" stroke-width="0.1">NSW</text>
<text x="597.80" y="202.70" font-size="7" fill="#333" text-anchor="start" font-weight="normal" textLength="6.91" lengthAdjust="spacingAndGlyphs"  stroke="#333" stroke-width="0.15">12</text>
<g fill="#5BBDF0"><ellipse cx="463.30" cy="208.90" rx="0.9" ry="1"/><path d="M461.60,210.20 L465.00,210.20 L465.10,214.60 L461.50,214.60 Z"/><rect x="462.20" y="214.50" width="2.2" height="3.2"/></g>
<g fill="#5BBDF0"><ellipse cx="475.06" cy="208.90" rx="0.9" ry="1"/><path d="M473.36,210.20 L476.76,210.20 L476.86,214.60 L473.26,214.60 Z"/><rect x="473.96" y="214.50" width="2.2" height="3.2"/></g>
<g fill="#5BBDF0"><ellipse cx="486.82" cy="208.90" rx="0.9" ry="1"/><path d="M485.12,210.20 L488.52,210.20 L488.62,214.60 L485.02,214.60 Z"/><rect x="485.72" y="214.50" width="2.2" height="3.2"/></g>
<g fill="#5BBDF0"><ellipse cx="498.58" cy="208.90" rx="0.9" ry="1"/><path d="M496.88,210.20 L500.28,210.20 L500.38,214.60 L496.78,214.60 Z"/><rect x="497.48" y="214.50" width="2.2" height="3.2"/></g>
<g fill="#5BBDF0"><ellipse cx="510.34" cy="208.90" rx="0.9" ry="1"/><path d="M508.64,210.20 L512.04,210.20 L512.14,214.60 L508.54,214.60 Z"/><rect x="509.24" y="214.50" width="2.2" height="3.2"/></g>
<g fill="#5BBDF0"><ellipse cx="522.10" cy="208.90" rx="0.9" ry="1"/><path d="M520.40,210.20 L523.80,210.20 L523.90,214.60 L520.30,214.60 Z"/><rect x="521.00" y="214.50" width="2.2" height="3.2"/></g>
<g fill="#5BBDF0"><ellipse cx="533.86" cy="208.90" rx="0.9" ry="1"/><path d="M532.16,210.20 L535.56,210.20 L535.66,214.60 L532.06,214.60 Z"/><rect x="532.76" y="214.50" width="2.2" height="3.2"/></g>
<g fill="#5BBDF0"><ellipse cx="545.62" cy="208.90" rx="0.9" ry="1"/><path d="M543.92,210.20 L547.32,210.20 L547.42,214.60 L543.82,214.60 Z"/><rect x="544.52" y="214.50" width="2.2" height="3.2"/></g>
<g fill="#5BBDF0"><ellipse cx="557.38" cy="208.90" rx="0.9" ry="1"/><path d="M555.68,210.20 L559.08,210.20 L559.18,214.60 L555.58,214.60 Z"/><rect x="556.28" y="214.50" width="2.2" height="3.2"/></g>
<g fill="#5BBDF0"><ellipse cx="569.14" cy="208.90" rx="0.9" ry="1"/><path d="M567.44,210.20 L570.84,210.20 L570.94,214.60 L567.34,214.60 Z"/><rect x="568.04" y="214.50" width="2.2" height="3.2"/></g>
<text x="442.70" y="216.80" font-size="7" fill="#595959" text-anchor="start" font-weight="normal" textLength="12.51" lengthAdjust="spacingAndGlyphs"  stroke="#595959" stroke-width="0.1">QLD</text>
<text x="597.80" y="216.90" font-size="7" fill="#333" text-anchor="start" font-weight="normal" textLength="6.91" lengthAdjust="spacingAndGlyphs"  stroke="#333" stroke-width="0.15">10</text>
<g fill="#C8E3E8"><ellipse cx="463.30" cy="222.90" rx="0.9" ry="1"/><path d="M461.60,224.20 L465.00,224.20 L465.10,228.60 L461.50,228.60 Z"/><rect x="462.20" y="228.50" width="2.2" height="3.2"/></g>
<g fill="#C8E3E8"><ellipse cx="475.06" cy="222.90" rx="0.9" ry="1"/><path d="M473.36,224.20 L476.76,224.20 L476.86,228.60 L473.26,228.60 Z"/><rect x="473.96" y="228.50" width="2.2" height="3.2"/></g>
<g fill="#C8E3E8"><ellipse cx="486.82" cy="222.90" rx="0.9" ry="1"/><path d="M485.12,224.20 L488.52,224.20 L488.62,228.60 L485.02,228.60 Z"/><rect x="485.72" y="228.50" width="2.2" height="3.2"/></g>
<g fill="#C8E3E8"><ellipse cx="498.58" cy="222.90" rx="0.9" ry="1"/><path d="M496.88,224.20 L500.28,224.20 L500.38,228.60 L496.78,228.60 Z"/><rect x="497.48" y="228.50" width="2.2" height="3.2"/></g>
<g fill="#C8E3E8"><ellipse cx="510.34" cy="222.90" rx="0.9" ry="1"/><path d="M508.64,224.20 L512.04,224.20 L512.14,228.60 L508.54,228.60 Z"/><rect x="509.24" y="228.50" width="2.2" height="3.2"/></g>
<g fill="#C8E3E8"><ellipse cx="522.10" cy="222.90" rx="0.9" ry="1"/><path d="M520.40,224.20 L523.80,224.20 L523.90,228.60 L520.30,228.60 Z"/><rect x="521.00" y="228.50" width="2.2" height="3.2"/></g>
<g fill="#C8E3E8"><ellipse cx="533.86" cy="222.90" rx="0.9" ry="1"/><path d="M532.16,224.20 L535.56,224.20 L535.66,228.60 L532.06,228.60 Z"/><rect x="532.76" y="228.50" width="2.2" height="3.2"/></g>
<text x="444.30" y="230.65" font-size="7" fill="#595959" text-anchor="start" font-weight="normal" textLength="10.90" lengthAdjust="spacingAndGlyphs"  stroke="#595959" stroke-width="0.1">TAS</text>
<text x="601.10" y="230.80" font-size="7" fill="#333" text-anchor="start" font-weight="normal" textLength="3.61" lengthAdjust="spacingAndGlyphs"  stroke="#333" stroke-width="0.15">7</text>
<g fill="#999999"><ellipse cx="463.30" cy="241.00" rx="0.9" ry="1"/><path d="M461.60,242.30 L465.00,242.30 L465.10,246.70 L461.50,246.70 Z"/><rect x="462.20" y="246.60" width="2.2" height="3.2"/></g>
<g fill="#999999"><ellipse cx="475.06" cy="241.00" rx="0.9" ry="1"/><path d="M473.36,242.30 L476.76,242.30 L476.86,246.70 L473.26,246.70 Z"/><rect x="473.96" y="246.60" width="2.2" height="3.2"/></g>
<g fill="#999999"><ellipse cx="486.82" cy="241.00" rx="0.9" ry="1"/><path d="M485.12,242.30 L488.52,242.30 L488.62,246.70 L485.02,246.70 Z"/><rect x="485.72" y="246.60" width="2.2" height="3.2"/></g>
<g fill="#999999"><ellipse cx="498.58" cy="241.00" rx="0.9" ry="1"/><path d="M496.88,242.30 L500.28,242.30 L500.38,246.70 L496.78,246.70 Z"/><rect x="497.48" y="246.60" width="2.2" height="3.2"/></g>
<text x="445.40" y="248.90" font-size="7" fill="#595959" text-anchor="start" font-weight="normal" textLength="9.81" lengthAdjust="spacingAndGlyphs"  stroke="#595959" stroke-width="0.1">VIC</text>
<text x="601.10" y="248.70" font-size="7" fill="#333" text-anchor="start" font-weight="normal" textLength="3.61" lengthAdjust="spacingAndGlyphs"  stroke="#333" stroke-width="0.15">4</text>
<path d="M652.35,198.40 A26,26 0 0 1 676.52,233.97 L664.44,229.19 A13,13 0 0 0 652.35,211.40 Z" fill="#2E6A96"/>
<path d="M676.52,233.97 A26,26 0 0 1 626.56,227.66 L639.45,226.03 A13,13 0 0 0 664.44,229.19 Z" fill="#5BBDF0"/>
<path d="M626.56,227.66 A26,26 0 0 1 652.35,198.40 L652.35,211.40 A13,13 0 0 0 639.45,226.03 Z" fill="#C5E5F8"/>
<text x="662.80" y="216.30" font-size="6.5" fill="white" text-anchor="start" font-weight="bold" textLength="10.71" lengthAdjust="spacingAndGlyphs" >31%</text>
<text x="644.20" y="245.60" font-size="6.5" fill="white" text-anchor="start" font-weight="bold" textLength="10.91" lengthAdjust="spacingAndGlyphs" >42%</text>
<text x="632.30" y="214.00" font-size="6.5" fill="#404040" text-anchor="start" font-weight="bold" textLength="10.61" lengthAdjust="spacingAndGlyphs" >27%</text>
<path d="M726.90,197.60 A27.2,27.2 0 0 1 750.74,237.90 L739.08,231.50 A13.9,13.9 0 0 0 726.90,210.90 Z" fill="#2E6A96"/>
<path d="M750.74,237.90 A27.2,27.2 0 0 1 699.91,221.39 L713.11,223.06 A13.9,13.9 0 0 0 739.08,231.50 Z" fill="#5BBDF0"/>
<path d="M699.91,221.39 A27.2,27.2 0 0 1 726.90,197.60 L726.90,210.90 A13.9,13.9 0 0 0 713.11,223.06 Z" fill="#C5E5F8"/>
<text x="738.60" y="216.60" font-size="6.5" fill="white" text-anchor="start" font-weight="bold" textLength="10.81" lengthAdjust="spacingAndGlyphs" >33%</text>
<text x="714.70" y="246.50" font-size="6.5" fill="white" text-anchor="start" font-weight="bold" textLength="10.81" lengthAdjust="spacingAndGlyphs" >44%</text>
<text x="707.60" y="212.40" font-size="6.5" fill="#404040" text-anchor="start" font-weight="bold" textLength="10.81" lengthAdjust="spacingAndGlyphs" >23%</text>
<text x="629.90" y="195.10" font-size="8" fill="#595959" text-anchor="start" font-weight="normal" textLength="9.39" lengthAdjust="spacingAndGlyphs"  stroke="#595959" stroke-width="0.1">CY</text>
<text x="702.00" y="195.90" font-size="8" fill="#595959" text-anchor="start" font-weight="normal" textLength="8.89" lengthAdjust="spacingAndGlyphs"  stroke="#595959" stroke-width="0.1">PY</text>
<circle cx="680.00" cy="194.70" r="6.40" fill="#4B69A6" />
<path d="M678.8,199 L680,203.8 L681.5,199 Z" fill="#4B69A6"/>
<text x="680.80" y="200.60" font-size="11.5" fill="white" text-anchor="middle" font-weight="bold" >f</text>
<circle cx="757.40" cy="193.90" r="6.40" fill="#4B69A6" />
<path d="M753.5,197.5 L751.3,201.5 L756,199.5 Z" fill="#4B69A6"/>
<text x="757.60" y="197.30" font-size="8.8" fill="white" text-anchor="middle" font-weight="bold" >P</text>
<rect x="756.10" y="196.50" width="1.20" height="3.30" fill="white" />
<rect x="684" y="236.6" width="14.4" height="12.8" rx="1.5" fill="#7AA5C8"/>
<path d="M685,239.5 L681.2,247.6 L685.5,247 Z" fill="#7AA5C8"/>
<rect x="687" y="243.2" width="9" height="4.2" rx="1.6" fill="#E0ECF5"/>
<rect x="688.50" y="244.20" width="6.00" height="2.20" fill="#8AB0D0" />
<text x="692.50" y="242.00" font-size="3.6" fill="#E0ECF5" text-anchor="middle" font-weight="bold" >You</text>
<rect x="618.30" y="256.90" width="3.60" height="3.30" fill="#2E6A96" />
<text x="623.30" y="260.70" font-size="6" fill="#595959" text-anchor="start" font-weight="normal" textLength="21.39" lengthAdjust="spacingAndGlyphs"  stroke="#595959" stroke-width="0.1">Youtube</text>
<rect x="648.50" y="256.90" width="3.60" height="3.30" fill="#5BBDF0" />
<text x="653.70" y="260.70" font-size="6" fill="#595959" text-anchor="start" font-weight="normal" textLength="6.49" lengthAdjust="spacingAndGlyphs"  stroke="#595959" stroke-width="0.1">FB</text>
<rect x="662.80" y="256.90" width="3.60" height="3.30" fill="#C5E5F8" />
<text x="668.10" y="260.70" font-size="6" fill="#595959" text-anchor="start" font-weight="normal" textLength="23.01" lengthAdjust="spacingAndGlyphs"  stroke="#595959" stroke-width="0.1">Pinterest</text>
<rect x="696.40" y="256.10" width="3.60" height="3.30" fill="#2E6A96" />
<text x="701.40" y="259.90" font-size="6" fill="#595959" text-anchor="start" font-weight="normal" textLength="21.39" lengthAdjust="spacingAndGlyphs"  stroke="#595959" stroke-width="0.1">Youtube</text>
<rect x="728.60" y="256.10" width="3.60" height="3.30" fill="#5BBDF0" />
<text x="733.80" y="259.90" font-size="6" fill="#595959" text-anchor="start" font-weight="normal" textLength="6.49" lengthAdjust="spacingAndGlyphs"  stroke="#595959" stroke-width="0.1">FB</text>
<rect x="742.90" y="256.10" width="3.60" height="3.30" fill="#C5E5F8" />
<text x="748.20" y="259.90" font-size="6" fill="#595959" text-anchor="start" font-weight="normal" textLength="23.01" lengthAdjust="spacingAndGlyphs"  stroke="#595959" stroke-width="0.1">Pinterest</text>
<text x="21.80" y="276.10" font-size="8.8" fill="white" text-anchor="start" font-weight="normal" textLength="129.30" lengthAdjust="spacingAndGlyphs"  stroke="white" stroke-width="0.25">NSW Operational Effectiveness YOY</text>
<text x="168.60" y="276.10" font-size="8.8" fill="white" text-anchor="start" font-weight="normal" textLength="127.88" lengthAdjust="spacingAndGlyphs"  stroke="white" stroke-width="0.25">QLD Operational Effectiveness YOY</text>
<text x="317.40" y="276.10" font-size="8.8" fill="white" text-anchor="start" font-weight="normal" textLength="125.52" lengthAdjust="spacingAndGlyphs"  stroke="white" stroke-width="0.25">TAS Operational Effectiveness YOY</text>
<text x="466.10" y="276.10" font-size="8.8" fill="white" text-anchor="start" font-weight="normal" textLength="124.19" lengthAdjust="spacingAndGlyphs"  stroke="white" stroke-width="0.25">VIC Operational Effectiveness YOY</text>
<text x="630.00" y="277.00" font-size="8.4" fill="white" text-anchor="start" font-weight="normal" textLength="122.00" lengthAdjust="spacingAndGlyphs"  stroke="white" stroke-width="0.25">% of eCommerse Sales Actual V Target</text>
<rect x="15.00" y="298.70" width="20.50" height="65.90" fill="#78C9D6" />
<text x="18.85" y="334.70" font-size="7.5" fill="white" text-anchor="start" font-weight="normal" textLength="12.81" lengthAdjust="spacingAndGlyphs"  stroke="white" stroke-width="0.2">99%</text>
<text x="14.20" y="372.90" font-size="5.8" fill="#404040" text-anchor="start" font-weight="normal" textLength="22.10" lengthAdjust="spacingAndGlyphs"  stroke="#404040" stroke-width="0.05">Marketing</text>
<circle cx="25.25" cy="314.80" r="2.10" fill="#4A9ADA" />
<rect x="37.70" y="306.90" width="20.20" height="57.70" fill="#78C9D6" />
<text x="41.40" y="338.80" font-size="7.5" fill="white" text-anchor="start" font-weight="normal" textLength="12.81" lengthAdjust="spacingAndGlyphs"  stroke="white" stroke-width="0.2">96%</text>
<text x="46.00" y="372.90" font-size="5.8" fill="#404040" text-anchor="start" font-weight="normal" textLength="3.59" lengthAdjust="spacingAndGlyphs"  stroke="#404040" stroke-width="0.05">IT</text>
<circle cx="47.80" cy="300.90" r="2.10" fill="#4A9ADA" />
<rect x="60.00" y="312.40" width="20.30" height="52.20" fill="#78C9D6" />
<text x="63.75" y="341.55" font-size="7.5" fill="white" text-anchor="start" font-weight="normal" textLength="12.81" lengthAdjust="spacingAndGlyphs"  stroke="white" stroke-width="0.2">94%</text>
<text x="64.40" y="372.90" font-size="5.8" fill="#404040" text-anchor="start" font-weight="normal" textLength="11.51" lengthAdjust="spacingAndGlyphs"  stroke="#404040" stroke-width="0.05">Sales</text>
<circle cx="70.15" cy="314.80" r="2.10" fill="#4A9ADA" />
<rect x="82.50" y="304.50" width="20.50" height="60.10" fill="#78C9D6" />
<text x="86.35" y="337.60" font-size="7.5" fill="white" text-anchor="start" font-weight="normal" textLength="12.81" lengthAdjust="spacingAndGlyphs"  stroke="white" stroke-width="0.2">97%</text>
<text x="83.00" y="372.90" font-size="5.8" fill="#404040" text-anchor="start" font-weight="normal" textLength="19.50" lengthAdjust="spacingAndGlyphs"  stroke="#404040" stroke-width="0.05">Strategy</text>
<circle cx="92.75" cy="317.30" r="2.10" fill="#4A9ADA" />
<rect x="105.10" y="315.10" width="20.20" height="49.50" fill="#78C9D6" />
<text x="108.80" y="342.90" font-size="7.5" fill="white" text-anchor="start" font-weight="normal" textLength="12.81" lengthAdjust="spacingAndGlyphs"  stroke="white" stroke-width="0.2">93%</text>
<text x="106.45" y="372.90" font-size="5.8" fill="#404040" text-anchor="start" font-weight="normal" textLength="17.49" lengthAdjust="spacingAndGlyphs"  stroke="#404040" stroke-width="0.05">Finance</text>
<circle cx="115.20" cy="333.70" r="2.10" fill="#4A9ADA" />
<rect x="127.50" y="317.90" width="20.50" height="46.70" fill="#78C9D6" />
<text x="131.35" y="344.30" font-size="7.5" fill="white" text-anchor="start" font-weight="normal" textLength="12.81" lengthAdjust="spacingAndGlyphs"  stroke="white" stroke-width="0.2">92%</text>
<text x="134.50" y="372.90" font-size="5.8" fill="#404040" text-anchor="start" font-weight="normal" textLength="6.50" lengthAdjust="spacingAndGlyphs"  stroke="#404040" stroke-width="0.05">HR</text>
<circle cx="137.75" cy="300.90" r="2.10" fill="#4A9ADA" />
<line x1="14.00" y1="364.95" x2="149.00" y2="364.95" stroke="#D0D0D0" stroke-width="0.8" />
<text x="19.80" y="287.80" font-size="6" fill="#333" text-anchor="start" font-weight="normal" textLength="6.90" lengthAdjust="spacingAndGlyphs"  stroke="#333" stroke-width="0.1">CY</text>
<rect x="31.20" y="284.10" width="8.80" height="4.90" fill="#1F3F5F" />
<circle cx="49.70" cy="286.20" r="3.30" fill="#7CC8F0" />
<text x="57.30" y="287.80" font-size="6" fill="#333" text-anchor="start" font-weight="normal" textLength="7.19" lengthAdjust="spacingAndGlyphs"  stroke="#333" stroke-width="0.1">PY</text>
<rect x="162.90" y="313.20" width="20.20" height="51.40" fill="#3A86C2" />
<text x="166.60" y="341.95" font-size="7.5" fill="white" text-anchor="start" font-weight="normal" textLength="12.81" lengthAdjust="spacingAndGlyphs"  stroke="white" stroke-width="0.2">90%</text>
<text x="161.95" y="372.90" font-size="5.8" fill="#404040" text-anchor="start" font-weight="normal" textLength="22.10" lengthAdjust="spacingAndGlyphs"  stroke="#404040" stroke-width="0.05">Marketing</text>
<circle cx="173.00" cy="310.50" r="2.10" fill="#4A9ADA" />
<rect x="185.50" y="310.20" width="20.10" height="54.40" fill="#3A86C2" />
<text x="189.15" y="340.45" font-size="7.5" fill="white" text-anchor="start" font-weight="normal" textLength="12.81" lengthAdjust="spacingAndGlyphs"  stroke="white" stroke-width="0.2">95%</text>
<text x="193.75" y="372.90" font-size="5.8" fill="#404040" text-anchor="start" font-weight="normal" textLength="3.59" lengthAdjust="spacingAndGlyphs"  stroke="#404040" stroke-width="0.05">IT</text>
<circle cx="195.55" cy="311.70" r="2.10" fill="#4A9ADA" />
<rect x="208.00" y="316.50" width="20.20" height="48.10" fill="#3A86C2" />
<text x="211.70" y="343.60" font-size="7.5" fill="white" text-anchor="start" font-weight="normal" textLength="12.81" lengthAdjust="spacingAndGlyphs"  stroke="white" stroke-width="0.2">84%</text>
<text x="212.35" y="372.90" font-size="5.8" fill="#404040" text-anchor="start" font-weight="normal" textLength="11.51" lengthAdjust="spacingAndGlyphs"  stroke="#404040" stroke-width="0.05">Sales</text>
<circle cx="218.10" cy="318.00" r="2.10" fill="#4A9ADA" />
<rect x="230.60" y="314.70" width="20.20" height="49.90" fill="#3A86C2" />
<text x="234.30" y="342.70" font-size="7.5" fill="white" text-anchor="start" font-weight="normal" textLength="12.81" lengthAdjust="spacingAndGlyphs"  stroke="white" stroke-width="0.2">87%</text>
<text x="230.95" y="372.90" font-size="5.8" fill="#404040" text-anchor="start" font-weight="normal" textLength="19.50" lengthAdjust="spacingAndGlyphs"  stroke="#404040" stroke-width="0.05">Strategy</text>
<circle cx="240.70" cy="317.10" r="2.10" fill="#4A9ADA" />
<rect x="253.20" y="314.10" width="20.10" height="50.50" fill="#3A86C2" />
<text x="256.85" y="342.40" font-size="7.5" fill="white" text-anchor="start" font-weight="normal" textLength="12.81" lengthAdjust="spacingAndGlyphs"  stroke="white" stroke-width="0.2">88%</text>
<text x="254.50" y="372.90" font-size="5.8" fill="#404040" text-anchor="start" font-weight="normal" textLength="17.49" lengthAdjust="spacingAndGlyphs"  stroke="#404040" stroke-width="0.05">Finance</text>
<circle cx="263.25" cy="312.00" r="2.10" fill="#4A9ADA" />
<rect x="275.70" y="309.60" width="20.20" height="55.00" fill="#3A86C2" />
<text x="279.40" y="340.15" font-size="7.5" fill="white" text-anchor="start" font-weight="normal" textLength="12.81" lengthAdjust="spacingAndGlyphs"  stroke="white" stroke-width="0.2">96%</text>
<text x="282.55" y="372.90" font-size="5.8" fill="#404040" text-anchor="start" font-weight="normal" textLength="6.50" lengthAdjust="spacingAndGlyphs"  stroke="#404040" stroke-width="0.05">HR</text>
<circle cx="285.80" cy="308.10" r="2.10" fill="#4A9ADA" />
<line x1="161.90" y1="364.95" x2="296.90" y2="364.95" stroke="#D0D0D0" stroke-width="0.8" />
<text x="169.50" y="287.80" font-size="6" fill="#333" text-anchor="start" font-weight="normal" textLength="6.90" lengthAdjust="spacingAndGlyphs"  stroke="#333" stroke-width="0.1">CY</text>
<rect x="181.60" y="284.10" width="8.40" height="4.90" fill="#5BB5E8" />
<circle cx="200.20" cy="286.20" r="3.30" fill="#7CC8F0" />
<text x="207.10" y="287.80" font-size="6" fill="#333" text-anchor="start" font-weight="normal" textLength="7.19" lengthAdjust="spacingAndGlyphs"  stroke="#333" stroke-width="0.1">PY</text>
<rect x="317.40" y="306.60" width="20.80" height="58.00" fill="#2B4A7F" />
<text x="321.40" y="338.65" font-size="7.5" fill="white" text-anchor="start" font-weight="normal" textLength="12.81" lengthAdjust="spacingAndGlyphs"  stroke="white" stroke-width="0.2">96%</text>
<text x="316.75" y="372.90" font-size="5.8" fill="#404040" text-anchor="start" font-weight="normal" textLength="22.10" lengthAdjust="spacingAndGlyphs"  stroke="#404040" stroke-width="0.05">Marketing</text>
<circle cx="327.80" cy="317.10" r="2.10" fill="#4A9ADA" />
<rect x="340.00" y="326.20" width="20.20" height="38.40" fill="#2B4A7F" />
<text x="343.70" y="348.45" font-size="7.5" fill="white" text-anchor="start" font-weight="normal" textLength="12.81" lengthAdjust="spacingAndGlyphs"  stroke="white" stroke-width="0.2">89%</text>
<text x="348.30" y="372.90" font-size="5.8" fill="#404040" text-anchor="start" font-weight="normal" textLength="3.59" lengthAdjust="spacingAndGlyphs"  stroke="#404040" stroke-width="0.05">IT</text>
<circle cx="350.10" cy="333.70" r="2.10" fill="#4A9ADA" />
<rect x="362.60" y="312.00" width="20.40" height="52.60" fill="#2B4A7F" />
<text x="366.40" y="341.35" font-size="7.5" fill="white" text-anchor="start" font-weight="normal" textLength="12.81" lengthAdjust="spacingAndGlyphs"  stroke="white" stroke-width="0.2">94%</text>
<text x="367.05" y="372.90" font-size="5.8" fill="#404040" text-anchor="start" font-weight="normal" textLength="11.51" lengthAdjust="spacingAndGlyphs"  stroke="#404040" stroke-width="0.05">Sales</text>
<circle cx="372.80" cy="328.60" r="2.10" fill="#4A9ADA" />
<rect x="385.10" y="342.10" width="20.20" height="22.50" fill="#2B4A7F" />
<text x="388.80" y="356.40" font-size="7.5" fill="white" text-anchor="start" font-weight="normal" textLength="12.81" lengthAdjust="spacingAndGlyphs"  stroke="white" stroke-width="0.2">83%</text>
<text x="385.45" y="372.90" font-size="5.8" fill="#404040" text-anchor="start" font-weight="normal" textLength="19.50" lengthAdjust="spacingAndGlyphs"  stroke="#404040" stroke-width="0.05">Strategy</text>
<circle cx="395.20" cy="323.20" r="2.10" fill="#4A9ADA" />
<rect x="407.70" y="342.10" width="20.10" height="22.50" fill="#2B4A7F" />
<text x="411.35" y="356.40" font-size="7.5" fill="white" text-anchor="start" font-weight="normal" textLength="12.81" lengthAdjust="spacingAndGlyphs"  stroke="white" stroke-width="0.2">83%</text>
<text x="409.00" y="372.90" font-size="5.8" fill="#404040" text-anchor="start" font-weight="normal" textLength="17.49" lengthAdjust="spacingAndGlyphs"  stroke="#404040" stroke-width="0.05">Finance</text>
<circle cx="417.75" cy="339.10" r="2.10" fill="#4A9ADA" />
<rect x="430.20" y="317.70" width="20.20" height="46.90" fill="#2B4A7F" />
<text x="433.90" y="344.20" font-size="7.5" fill="white" text-anchor="start" font-weight="normal" textLength="12.81" lengthAdjust="spacingAndGlyphs"  stroke="white" stroke-width="0.2">92%</text>
<text x="437.05" y="372.90" font-size="5.8" fill="#404040" text-anchor="start" font-weight="normal" textLength="6.50" lengthAdjust="spacingAndGlyphs"  stroke="#404040" stroke-width="0.05">HR</text>
<circle cx="440.30" cy="333.70" r="2.10" fill="#4A9ADA" />
<line x1="316.40" y1="364.95" x2="451.40" y2="364.95" stroke="#D0D0D0" stroke-width="0.8" />
<text x="320.50" y="287.80" font-size="6" fill="#333" text-anchor="start" font-weight="normal" textLength="6.90" lengthAdjust="spacingAndGlyphs"  stroke="#333" stroke-width="0.1">CY</text>
<rect x="331.60" y="284.10" width="9.00" height="4.90" fill="#C5DDE6" />
<circle cx="350.50" cy="286.20" r="3.30" fill="#7CC8F0" />
<text x="357.70" y="287.80" font-size="6" fill="#333" text-anchor="start" font-weight="normal" textLength="7.19" lengthAdjust="spacingAndGlyphs"  stroke="#333" stroke-width="0.1">PY</text>
<rect x="472.40" y="316.50" width="20.80" height="48.10" fill="#B6D5DD" />
<text x="476.40" y="343.60" font-size="7.5" fill="white" text-anchor="start" font-weight="normal" textLength="12.81" lengthAdjust="spacingAndGlyphs"  stroke="white" stroke-width="0.2">83%</text>
<text x="471.75" y="372.90" font-size="5.8" fill="#404040" text-anchor="start" font-weight="normal" textLength="22.10" lengthAdjust="spacingAndGlyphs"  stroke="#404040" stroke-width="0.05">Marketing</text>
<circle cx="482.80" cy="317.70" r="2.10" fill="#4A9ADA" />
<rect x="495.00" y="309.00" width="20.80" height="55.60" fill="#B6D5DD" />
<text x="499.00" y="339.85" font-size="7.5" fill="white" text-anchor="start" font-weight="normal" textLength="12.81" lengthAdjust="spacingAndGlyphs"  stroke="white" stroke-width="0.2">97%</text>
<text x="503.60" y="372.90" font-size="5.8" fill="#404040" text-anchor="start" font-weight="normal" textLength="3.59" lengthAdjust="spacingAndGlyphs"  stroke="#404040" stroke-width="0.05">IT</text>
<circle cx="505.40" cy="308.70" r="2.10" fill="#4A9ADA" />
<rect x="517.60" y="315.60" width="20.70" height="49.00" fill="#B6D5DD" />
<text x="521.55" y="343.15" font-size="7.5" fill="white" text-anchor="start" font-weight="normal" textLength="12.81" lengthAdjust="spacingAndGlyphs"  stroke="white" stroke-width="0.2">86%</text>
<text x="522.20" y="372.90" font-size="5.8" fill="#404040" text-anchor="start" font-weight="normal" textLength="11.51" lengthAdjust="spacingAndGlyphs"  stroke="#404040" stroke-width="0.05">Sales</text>
<circle cx="527.95" cy="318.00" r="2.10" fill="#4A9ADA" />
<rect x="540.10" y="315.90" width="20.20" height="48.70" fill="#B6D5DD" />
<text x="543.80" y="343.30" font-size="7.5" fill="white" text-anchor="start" font-weight="normal" textLength="12.81" lengthAdjust="spacingAndGlyphs"  stroke="white" stroke-width="0.2">85%</text>
<text x="540.45" y="372.90" font-size="5.8" fill="#404040" text-anchor="start" font-weight="normal" textLength="19.50" lengthAdjust="spacingAndGlyphs"  stroke="#404040" stroke-width="0.05">Strategy</text>
<circle cx="550.20" cy="316.50" r="2.10" fill="#4A9ADA" />
<rect x="562.70" y="315.60" width="20.10" height="49.00" fill="#B6D5DD" />
<text x="566.35" y="343.15" font-size="7.5" fill="white" text-anchor="start" font-weight="normal" textLength="12.81" lengthAdjust="spacingAndGlyphs"  stroke="white" stroke-width="0.2">86%</text>
<text x="564.00" y="372.90" font-size="5.8" fill="#404040" text-anchor="start" font-weight="normal" textLength="17.49" lengthAdjust="spacingAndGlyphs"  stroke="#404040" stroke-width="0.05">Finance</text>
<circle cx="572.75" cy="312.60" r="2.10" fill="#4A9ADA" />
<rect x="584.90" y="313.20" width="21.10" height="51.40" fill="#B6D5DD" />
<text x="589.05" y="341.95" font-size="7.5" fill="white" text-anchor="start" font-weight="normal" textLength="12.81" lengthAdjust="spacingAndGlyphs"  stroke="white" stroke-width="0.2">90%</text>
<text x="592.20" y="372.90" font-size="5.8" fill="#404040" text-anchor="start" font-weight="normal" textLength="6.50" lengthAdjust="spacingAndGlyphs"  stroke="#404040" stroke-width="0.05">HR</text>
<circle cx="595.45" cy="315.60" r="2.10" fill="#4A9ADA" />
<line x1="471.40" y1="364.95" x2="607.00" y2="364.95" stroke="#D0D0D0" stroke-width="0.8" />
<text x="469.40" y="287.80" font-size="6" fill="#333" text-anchor="start" font-weight="normal" textLength="6.90" lengthAdjust="spacingAndGlyphs"  stroke="#333" stroke-width="0.1">CY</text>
<rect x="480.60" y="284.10" width="9.00" height="4.90" fill="#D0D0D0" />
<circle cx="499.50" cy="286.20" r="3.30" fill="#7CC8F0" />
<text x="506.70" y="287.80" font-size="6" fill="#333" text-anchor="start" font-weight="normal" textLength="7.19" lengthAdjust="spacingAndGlyphs"  stroke="#333" stroke-width="0.1">PY</text>
<rect x="626.90" y="295.30" width="132.70" height="22.70" fill="#95B3E0" />
<rect x="626.90" y="295.30" width="66.00" height="22.70" fill="#1F4160" />
<rect x="692.90" y="295.30" width="16.90" height="22.70" fill="#2E6B94" />
<rect x="626.90" y="302.60" width="103.10" height="8.00" fill="white" />
<rect x="735.80" y="303.80" width="1.80" height="9.20" fill="#C02020" />
<text x="623.50" y="326.10" font-size="5" fill="#333" text-anchor="start" font-weight="normal" textLength="6.50" lengthAdjust="spacingAndGlyphs"  stroke="#333" stroke-width="0.1">0%</text>
<text x="655.60" y="326.10" font-size="5" fill="#333" text-anchor="start" font-weight="normal" textLength="9.11" lengthAdjust="spacingAndGlyphs"  stroke="#333" stroke-width="0.1">10%</text>
<text x="689.00" y="326.10" font-size="5" fill="#333" text-anchor="start" font-weight="normal" textLength="9.01" lengthAdjust="spacingAndGlyphs"  stroke="#333" stroke-width="0.1">20%</text>
<text x="721.70" y="326.10" font-size="5" fill="#333" text-anchor="start" font-weight="normal" textLength="9.71" lengthAdjust="spacingAndGlyphs"  stroke="#333" stroke-width="0.1">30%</text>
<text x="754.90" y="326.10" font-size="5" fill="#333" text-anchor="start" font-weight="normal" textLength="9.61" lengthAdjust="spacingAndGlyphs"  stroke="#333" stroke-width="0.1">40%</text>
<rect x="626.90" y="343.90" width="132.70" height="22.70" fill="#95B3E0" />
<rect x="626.90" y="343.90" width="33.10" height="22.70" fill="#1F4160" />
<rect x="660.00" y="343.90" width="33.30" height="22.70" fill="#2E6B94" />
<rect x="626.90" y="351.70" width="117.30" height="7.30" fill="white" />
<rect x="725.40" y="353.20" width="1.80" height="8.80" fill="#C02020" />
<text x="623.50" y="374.70" font-size="5" fill="#333" text-anchor="start" font-weight="normal" textLength="6.07" lengthAdjust="spacingAndGlyphs"  stroke="#333" stroke-width="0.1">0 k</text>
<text x="654.30" y="374.70" font-size="5" fill="#333" text-anchor="start" font-weight="normal" textLength="11.58" lengthAdjust="spacingAndGlyphs"  stroke="#333" stroke-width="0.1">100 k</text>
<text x="687.40" y="374.70" font-size="5" fill="#333" text-anchor="start" font-weight="normal" textLength="11.58" lengthAdjust="spacingAndGlyphs"  stroke="#333" stroke-width="0.1">200 k</text>
<text x="720.60" y="374.70" font-size="5" fill="#333" text-anchor="start" font-weight="normal" textLength="11.48" lengthAdjust="spacingAndGlyphs"  stroke="#333" stroke-width="0.1">300 k</text>
<text x="753.90" y="374.70" font-size="5" fill="#333" text-anchor="start" font-weight="normal" textLength="11.58" lengthAdjust="spacingAndGlyphs"  stroke="#333" stroke-width="0.1">400 k</text>
<rect x="627.3" y="284.9" width="5.2" height="5" fill="white" stroke="#2E6B94" stroke-width="1.1"/>
<text x="636.10" y="288.85" font-size="6" fill="#595959" text-anchor="start" font-weight="normal" textLength="39.59" lengthAdjust="spacingAndGlyphs"  stroke="#595959" stroke-width="0.1">Actual V Target</text>
<rect x="679.00" y="285.40" width="2.00" height="4.20" fill="#3A7AB8" />
<text x="628.70" y="339.60" font-size="8" fill="#595959" text-anchor="start" font-weight="normal" textLength="13.49" lengthAdjust="spacingAndGlyphs"  stroke="#595959" stroke-width="0.1">EBIT</text>
<text x="11.80" y="396.00" font-size="7" fill="#A0A0A0" text-anchor="start" font-weight="normal" textLength="17.07" lengthAdjust="spacingAndGlyphs" >Check</text>
<text x="72.70" y="396.00" font-size="7" fill="#A0A0A0" text-anchor="start" font-weight="normal" textLength="28.71" lengthAdjust="spacingAndGlyphs" >Model OK</text>
</svg>
</body></html>
